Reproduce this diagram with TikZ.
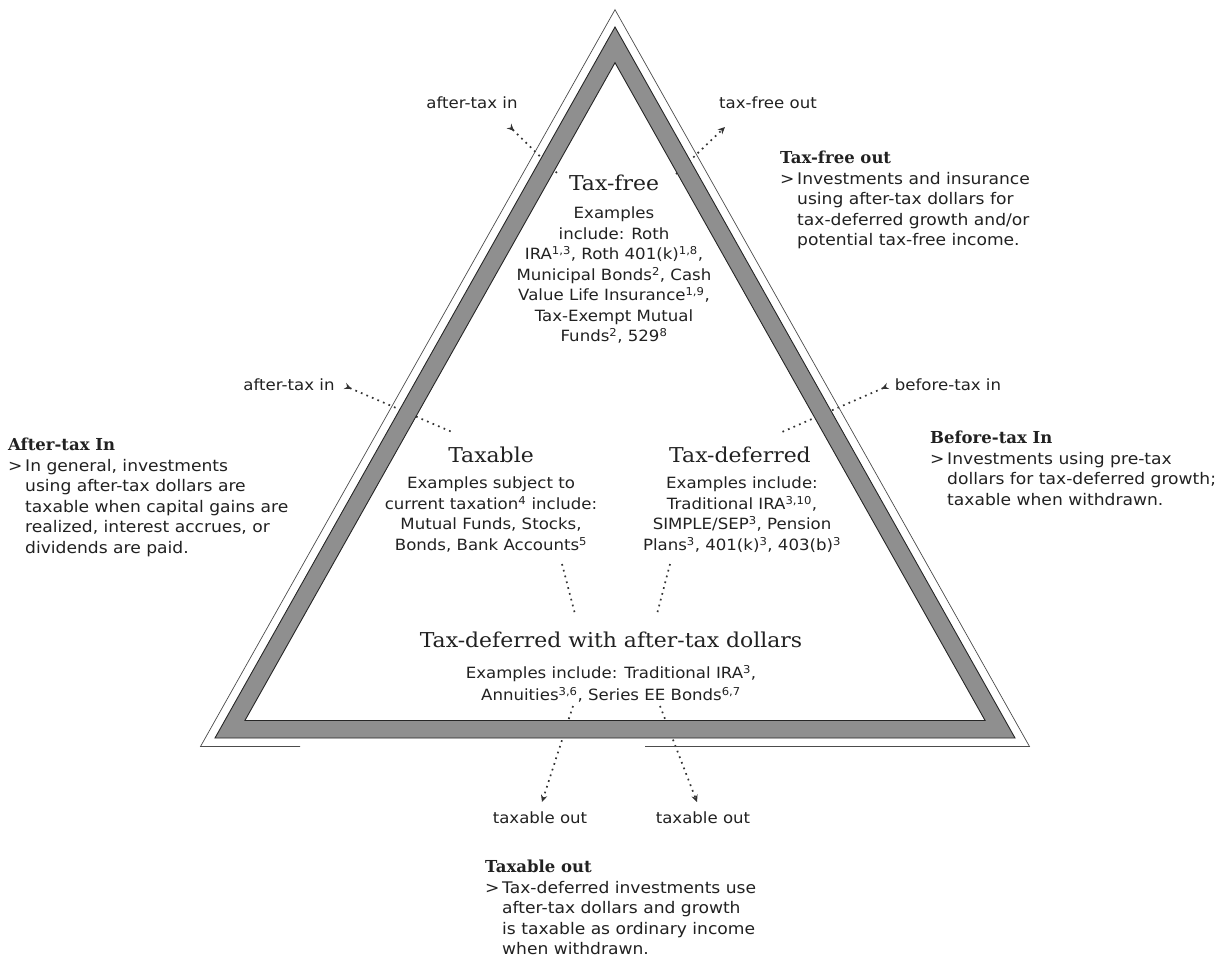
\documentclass[tikz,border=0pt]{standalone}
\usepackage{fontspec}
\setmainfont{DejaVu Sans}[FakeStretch=1.07]
\newfontfamily\ttlfam{DejaVu Serif}[FakeStretch=1.07]
\newfontfamily\hdfam{DejaVu Serif}
\usetikzlibrary{arrows.meta}
\definecolor{bandc}{gray}{0.56}
\definecolor{inkc}{gray}{0.13}
\newcommand\hdtxt[1]{{\hdfam\bfseries\fontsize{16.5}{20.5}\selectfont #1}}
\newcommand\gtmk{\makebox[17pt][l]{>}}
\newcommand\gtin{\hspace*{17pt}}
\begin{document}
\begin{tikzpicture}[x=1pt,y=-1pt,
  dotln/.style={line width=1.7pt, dash pattern=on 1.7pt off 4.3pt, draw=black!80},
  tipend/.style={arrows={-Stealth[length=7pt,width=6.5pt]}},
  tipstart/.style={arrows={Stealth[length=7pt,width=6.5pt,reversed]-}},
  lbl/.style={font=\fontsize{15.5}{18}\selectfont, inner sep=0pt, text=inkc},
  ttl/.style={font=\ttlfam\fontsize{20.5}{24}\selectfont, inner sep=0pt, text=inkc},
  body/.style={font=\fontsize{15.5}{20.5}\selectfont, align=center, inner sep=0pt, anchor=north, text=inkc},
  ann/.style={font=\fontsize{16}{20.5}\selectfont, align=left, inner sep=0pt, anchor=north west, text=inkc},
  bandedge/.style={draw=black!85, line width=0.9pt},
  thinln/.style={draw=black!70, line width=0.7pt}
]
\useasboundingbox (0,0) rectangle (1224,964);
\fill[white] (0,0) rectangle (1224,964);

% connector end points
\coordinate (tlA) at (509,126);
\coordinate (tlB) at (557,173);
\coordinate (trA) at (676,174);
\coordinate (trB) at (725,127);
\coordinate (mlA) at (345,386);
\coordinate (mlB) at (452,432);
\coordinate (mrA) at (888,386);
\coordinate (mrB) at (782,432);
\coordinate (blA) at (573,706);
\coordinate (blB) at (542,802);
\coordinate (brA) at (660,706);
\coordinate (brB) at (697,802);
\coordinate (ilA) at (562,564);
\coordinate (ilB) at (575,614);
\coordinate (irA) at (670,564);
\coordinate (irB) at (657,614);

% dotted connectors
\draw[dotln, tipstart] (tlA) -- (tlB);
\draw[dotln, tipend] (trA) -- (trB);
\draw[dotln, tipstart] (mlA) -- (mlB);
\draw[dotln, tipstart] (mrA) -- (mrB);
\draw[dotln, tipend] (blA) -- (blB);
\draw[dotln, tipend] (brA) -- (brB);
\draw[dotln] (ilA) -- (ilB);
\draw[dotln] (irA) -- (irB);

% triangle band
\fill[bandc, even odd rule] (615,27) -- (215,738) -- (1015,738) -- cycle
  (615,62.7) -- (244.9,720.5) -- (985.1,720.5) -- cycle;
\draw[bandedge] (615,27) -- (215,738) -- (1015,738) -- cycle;
\draw[bandedge] (615,62.7) -- (244.9,720.5) -- (985.1,720.5) -- cycle;
% thin outer line
\draw[thinln] (300,746.5) -- (200.5,746.5) -- (615,9.7) -- (1029.5,746.5) -- (645,746.5);

% flow labels
\node[lbl] (lbTL) at (472,103) {after-tax in};
\node[lbl] (lbTR) at (768,103) {tax-free out};
\node[lbl] (lbML) at (289,385) {after-tax in};
\node[lbl] (lbMR) at (948,385) {before-tax in};
\node[lbl] (lbBL) at (540,818) {taxable out};
\node[lbl] (lbBR) at (703,818) {taxable out};

% triangle contents
\node[ttl] (tfT) at (614,183) {Tax-free};
\node[body] (tfB) at (614,207) {Examples\\ include: Roth\\ IRA\textsuperscript{1,3}, Roth 401(k)\textsuperscript{1,8},\\ Municipal Bonds\textsuperscript{2}, Cash\\ Value Life Insurance\textsuperscript{1,9},\\ Tax-Exempt Mutual\\ Funds\textsuperscript{2}, 529\textsuperscript{8}};

\node[ttl] (txT) at (491,455) {Taxable};
\node[body] (txB) at (491,477) {Examples subject to\\ current taxation\textsuperscript{4} include:\\ Mutual Funds, Stocks,\\ Bonds, Bank Accounts\textsuperscript{5}};

\node[ttl] (tdT) at (740,455) {Tax-deferred};
\node[body] (tdB) at (742,477) {Examples include:\\ Traditional IRA\textsuperscript{3,10},\\ SIMPLE/SEP\textsuperscript{3}, Pension\\ Plans\textsuperscript{3}, 401(k)\textsuperscript{3}, 403(b)\textsuperscript{3}};

\node[ttl] (waT) at (611,640) {Tax-deferred with after-tax dollars};
\node[body, font=\fontsize{15.5}{22}\selectfont] (waB) at (611,665) {Examples include: Traditional IRA\textsuperscript{3},\\ Annuities\textsuperscript{3,6}, Series EE Bonds\textsuperscript{6,7}};

% annotation blocks
\node[ann] (anTR) at (780,151) {\hdtxt{Tax-free out}\\
 \gtmk Investments and insurance\\
 \gtin using after-tax dollars for\\
 \gtin tax-deferred growth and/or\\
 \gtin potential tax-free income.};

\node[ann] (anL) at (8,438) {\hdtxt{After-tax In}\\
 \gtmk In general, investments\\
 \gtin using after-tax dollars are\\
 \gtin taxable when capital gains are\\
 \gtin realized, interest accrues, or\\
 \gtin dividends are paid.};

\node[ann] (anR) at (930,431) {\hdtxt{Before-tax In}\\
 \gtmk Investments using pre-tax\\
 \gtin dollars for tax-deferred growth;\\
 \gtin taxable when withdrawn.};

\node[ann] (anB) at (485,860) {\hdtxt{Taxable out}\\
 \gtmk Tax-deferred investments use\\
 \gtin after-tax dollars and growth\\
 \gtin is taxable as ordinary income\\
 \gtin when withdrawn.};
\end{tikzpicture}
\end{document}
